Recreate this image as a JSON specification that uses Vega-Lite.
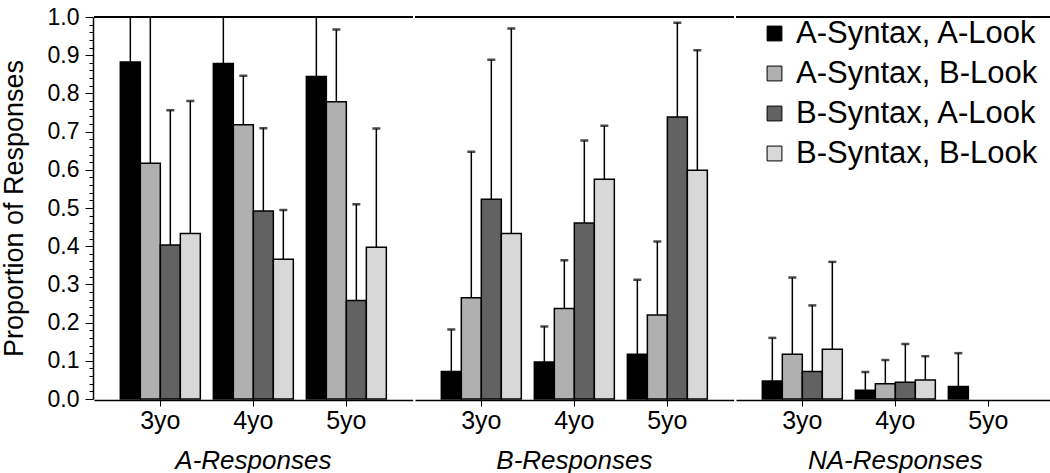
{
  "$schema": "https://vega.github.io/schema/vega-lite/v6.json",
  "padding": {"left": 0, "top": 6, "right": 0, "bottom": 0},
  "background": "white",
  "config": {
    "view": {"stroke": null},
    "font": "Liberation Sans",
    "axis": {"labelColor": "black", "titleColor": "black", "domainColor": "black", "tickColor": "black", "grid": false, "labelFont": "Liberation Sans", "titleFont": "Liberation Sans"}
  },
  "data": {
    "values": [
      {"resp": "A-Responses", "age": "3yo", "cond": "A-Syntax, A-Look", "mean": 0.882, "upper": 1.15},
      {"resp": "A-Responses", "age": "3yo", "cond": "A-Syntax, B-Look", "mean": 0.617, "upper": 1.2},
      {"resp": "A-Responses", "age": "3yo", "cond": "B-Syntax, A-Look", "mean": 0.403, "upper": 0.756},
      {"resp": "A-Responses", "age": "3yo", "cond": "B-Syntax, B-Look", "mean": 0.433, "upper": 0.78},
      {"resp": "A-Responses", "age": "4yo", "cond": "A-Syntax, A-Look", "mean": 0.878, "upper": 1.1},
      {"resp": "A-Responses", "age": "4yo", "cond": "A-Syntax, B-Look", "mean": 0.718, "upper": 0.846},
      {"resp": "A-Responses", "age": "4yo", "cond": "B-Syntax, A-Look", "mean": 0.492, "upper": 0.709},
      {"resp": "A-Responses", "age": "4yo", "cond": "B-Syntax, B-Look", "mean": 0.366, "upper": 0.495},
      {"resp": "A-Responses", "age": "5yo", "cond": "A-Syntax, A-Look", "mean": 0.844, "upper": 1.1},
      {"resp": "A-Responses", "age": "5yo", "cond": "A-Syntax, B-Look", "mean": 0.778, "upper": 0.967},
      {"resp": "A-Responses", "age": "5yo", "cond": "B-Syntax, A-Look", "mean": 0.258, "upper": 0.51},
      {"resp": "A-Responses", "age": "5yo", "cond": "B-Syntax, B-Look", "mean": 0.397, "upper": 0.708},
      {"resp": "B-Responses", "age": "3yo", "cond": "A-Syntax, A-Look", "mean": 0.072, "upper": 0.182},
      {"resp": "B-Responses", "age": "3yo", "cond": "A-Syntax, B-Look", "mean": 0.265, "upper": 0.647},
      {"resp": "B-Responses", "age": "3yo", "cond": "B-Syntax, A-Look", "mean": 0.523, "upper": 0.888},
      {"resp": "B-Responses", "age": "3yo", "cond": "B-Syntax, B-Look", "mean": 0.433, "upper": 0.97},
      {"resp": "B-Responses", "age": "4yo", "cond": "A-Syntax, A-Look", "mean": 0.097, "upper": 0.19},
      {"resp": "B-Responses", "age": "4yo", "cond": "A-Syntax, B-Look", "mean": 0.237, "upper": 0.363},
      {"resp": "B-Responses", "age": "4yo", "cond": "B-Syntax, A-Look", "mean": 0.461, "upper": 0.677},
      {"resp": "B-Responses", "age": "4yo", "cond": "B-Syntax, B-Look", "mean": 0.575, "upper": 0.715},
      {"resp": "B-Responses", "age": "5yo", "cond": "A-Syntax, A-Look", "mean": 0.117, "upper": 0.312},
      {"resp": "B-Responses", "age": "5yo", "cond": "A-Syntax, B-Look", "mean": 0.22, "upper": 0.412},
      {"resp": "B-Responses", "age": "5yo", "cond": "B-Syntax, A-Look", "mean": 0.738, "upper": 0.985},
      {"resp": "B-Responses", "age": "5yo", "cond": "B-Syntax, B-Look", "mean": 0.599, "upper": 0.913},
      {"resp": "NA-Responses", "age": "3yo", "cond": "A-Syntax, A-Look", "mean": 0.047, "upper": 0.16},
      {"resp": "NA-Responses", "age": "3yo", "cond": "A-Syntax, B-Look", "mean": 0.117, "upper": 0.318},
      {"resp": "NA-Responses", "age": "3yo", "cond": "B-Syntax, A-Look", "mean": 0.072, "upper": 0.245},
      {"resp": "NA-Responses", "age": "3yo", "cond": "B-Syntax, B-Look", "mean": 0.13, "upper": 0.359},
      {"resp": "NA-Responses", "age": "4yo", "cond": "A-Syntax, A-Look", "mean": 0.023, "upper": 0.071},
      {"resp": "NA-Responses", "age": "4yo", "cond": "A-Syntax, B-Look", "mean": 0.04, "upper": 0.102},
      {"resp": "NA-Responses", "age": "4yo", "cond": "B-Syntax, A-Look", "mean": 0.044, "upper": 0.144},
      {"resp": "NA-Responses", "age": "4yo", "cond": "B-Syntax, B-Look", "mean": 0.05, "upper": 0.112},
      {"resp": "NA-Responses", "age": "5yo", "cond": "A-Syntax, A-Look", "mean": 0.033, "upper": 0.12}
    ]
  },
  "spacing": 0,
  "facet": {
    "column": {
      "field": "resp", "type": "nominal",
      "sort": ["A-Responses", "B-Responses", "NA-Responses"],
      "header": {"title": null, "labelOrient": "bottom", "labelFont": "Liberation Sans", "labelFontSize": 26, "labelFontStyle": "italic", "labelColor": "black", "labelPadding": 15}
    }
  },
  "spec": {
    "width": 318.67,
    "height": 382,
    "layer": [
      {
        "mark": {"type": "bar", "stroke": "black", "strokeWidth": 1.5},
        "encoding": {
          "x": {
            "field": "age", "type": "nominal", "sort": ["3yo", "4yo", "5yo"],
            "scale": {"paddingInner": 0.14, "paddingOuter": 0.283},
            "axis": {"title": null, "labelAngle": 0, "labelFontSize": 25, "tickSize": 6, "labelPadding": 2, "domainWidth": 1.5}
          },
          "xOffset": {"field": "cond", "type": "nominal", "scale": {"paddingInner": 0, "paddingOuter": 0}},
          "y": {
            "field": "mean", "type": "quantitative",
            "scale": {"domain": [0, 1], "nice": false},
            "axis": {
              "title": "Proportion of Responses", "titleFontSize": 27, "titleFontWeight": "normal", "titlePadding": 19,
              "labelFontSize": 23, "labelPadding": 6, "domainWidth": 1.5,
              "values": [0, 0.02, 0.04, 0.06, 0.08, 0.1, 0.12, 0.14, 0.16, 0.18, 0.2, 0.22, 0.24, 0.26, 0.28, 0.3, 0.32, 0.34, 0.36, 0.38, 0.4, 0.42, 0.44, 0.46, 0.48, 0.5, 0.52, 0.54, 0.56, 0.58, 0.6, 0.62, 0.64, 0.66, 0.68, 0.7, 0.72, 0.74, 0.76, 0.78, 0.8, 0.82, 0.84, 0.86, 0.88, 0.9, 0.92, 0.94, 0.96, 0.98, 1.0],
              "labelExpr": "round(datum.value * 100) % 10 == 0 ? format(datum.value, '.1f') : ''",
              "tickSize": {"condition": {"test": "round(datum.value * 100) % 10 == 0", "value": 8}, "value": 4},
              "labelOverlap": false
            }
          },
          "fill": {
            "field": "cond", "type": "nominal",
            "scale": {"domain": ["A-Syntax, A-Look", "A-Syntax, B-Look", "B-Syntax, A-Look", "B-Syntax, B-Look"], "range": ["#000000", "#b0b0b0", "#626262", "#d8d8d8"]},
            "legend": {
              "title": null, "orient": "none", "legendX": 665, "legendY": 1,
              "labelFontSize": 31, "labelFont": "Liberation Sans", "labelColor": "black",
              "symbolType": "square", "symbolSize": 220, "symbolStrokeColor": "black", "symbolStrokeWidth": 1, "symbolOpacity": 1,
              "rowPadding": 8, "labelOffset": 6, "labelLimit": 400
            }
          }
        }
      },
      {
        "mark": {"type": "rule", "clip": true, "color": "black", "strokeWidth": 1.5},
        "encoding": {
          "x": {"field": "age", "type": "nominal", "sort": ["3yo", "4yo", "5yo"]},
          "xOffset": {"field": "cond", "type": "nominal"},
          "y": {"field": "mean", "type": "quantitative", "axis": null},
          "y2": {"field": "upper"}
        }
      },
      {
        "mark": {"type": "tick", "clip": true, "color": "black", "orient": "horizontal", "size": 8, "thickness": 2.5},
        "encoding": {
          "x": {"field": "age", "type": "nominal", "sort": ["3yo", "4yo", "5yo"]},
          "xOffset": {"field": "cond", "type": "nominal"},
          "y": {"field": "upper", "type": "quantitative", "axis": null}
        }
      },
      {
        "mark": {"type": "rule", "color": "black", "strokeWidth": 1.5},
        "encoding": {
          "y": {"datum": 1, "type": "quantitative", "axis": null}
        }
      }
    ],
    "resolve": {"axis": {"y": "independent"}}
  }
}
